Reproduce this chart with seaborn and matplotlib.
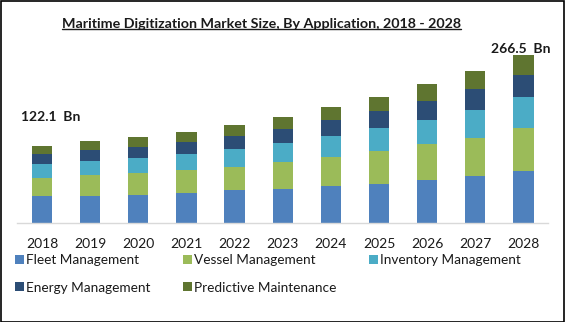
import numpy as np
import pandas as pd
import seaborn as sns
import matplotlib
matplotlib.use("Agg")
import matplotlib.pyplot as plt
from matplotlib.patches import Rectangle, Patch
from matplotlib.lines import Line2D

# Market size by application (USD Bn)
years = ["2018", "2019", "2020", "2021", "2022", "2023", "2024", "2025", "2026", "2027", "2028"]
fleet_management = [42.1, 43.1, 44.7, 47.9, 51.6, 54.2, 58.9, 62.3, 67.5, 73.8, 81.7]
vessel_management = [29.4, 33.2, 34.8, 36.3, 37.4, 42.7, 45.8, 51.5, 56.9, 61.6, 68.4]
inventory_management = [22.1, 22.1, 23.7, 25.8, 28.4, 30.0, 33.2, 36.3, 39.5, 44.2, 49.0]
energy_management = [15.8, 17.4, 17.4, 18.4, 20.5, 22.1, 25.3, 26.9, 30.0, 33.2, 35.8]
predictive_maintenance = [12.7, 14.2, 15.8, 15.8, 17.4, 19.0, 20.5, 22.1, 25.8, 28.4, 31.6]

segments = ["Fleet Management", "Vessel Management", "Inventory Management",
            "Energy Management", "Predictive Maintenance"]
colors = ["#4F81BD", "#9BBB59", "#4BACC6", "#2C4D75", "#5F7530"]

# callouts on first and last year
callout_years = ["2018", "2028"]
callout_text = ["122.1  Bn", "266.5  Bn"]

sns.set_theme(style="white")
plt.rcParams["font.family"] = ["Lato", "DejaVu Sans"]

df = pd.DataFrame({
    "year": years,
    segments[0]: fleet_management,
    segments[1]: vessel_management,
    segments[2]: inventory_management,
    segments[3]: energy_management,
    segments[4]: predictive_maintenance,
})
cum = df[segments].cumsum(axis=1)
cum["year"] = df["year"]

fig = plt.figure(figsize=(5.65, 3.22), dpi=100)
W, H = 565, 322
ax = fig.add_axes([17 / W, 1 - 223 / H, (548 - 17) / W, (223 - 50) / H])

# stacked bars: draw cumulative totals from the top segment down
for seg, col in zip(segments[::-1], colors[::-1]):
    sns.barplot(data=cum, x="year", y=seg, color=col, width=0.42,
                saturation=1, ax=ax, edgecolor="none", linewidth=0)

ax.set_ylim(0, 274)
ax.set_xlim(-0.52, 10.51)
ax.set_xlabel("")
ax.set_ylabel("")
ax.set_yticks([])
for s in ["top", "right", "left"]:
    ax.spines[s].set_visible(False)
ax.spines["bottom"].set_color("#D9D9D9")
ax.spines["bottom"].set_linewidth(1)
ax.tick_params(axis="x", length=0, pad=11, labelsize=10, labelcolor="#1a1a1a")

totals = cum[segments[-1]].values
offsets = [(-21, 29), (-32, 6)]
for yr, txt, off in zip(callout_years, callout_text, offsets):
    i = years.index(yr)
    ax.annotate(txt, xy=(i, totals[i]), xytext=off, textcoords="offset pixels",
                ha="left", va="center", fontsize=10, fontweight="bold", color="#1a1a1a")

renderer = fig.canvas.get_renderer()

# title, fitted to its width and underlined
title = fig.text(261 / W, 1 - 24 / H,
                 "Maritime Digitization Market Size, By Application, 2018 - 2028",
                 ha="center", va="center", fontsize=11, fontweight="bold", color="#1a1a1a")
bb = title.get_window_extent(renderer)
title.set_fontsize(11 * 398 / bb.width)
bb = title.get_window_extent(renderer)
fig.add_artist(Line2D([bb.x0 / W, bb.x1 / W], [(bb.y0 + 1) / H, (bb.y0 + 1) / H],
                      transform=fig.transFigure, color="#1a1a1a", lw=1))

# legend font sized so a label spans ~112 px
probe = fig.text(0, 0, segments[0], fontsize=10)
lfs = 10 * 112 / probe.get_window_extent(renderer).width
probe.set_fontsize(lfs)
probe.set_text(segments[3])
w_energy = probe.get_window_extent(renderer).width
probe.remove()
lpx = lfs * 100 / 72
hpx, tpx = 8.5, 2.5
col_gap = max(184 - 16 - hpx - tpx - w_energy, 10)

# legend, filled row by row
handles = [Patch(facecolor=c, edgecolor="none") for c in colors]
order = [0, 3, 1, 4, 2]
leg = fig.legend([handles[i] for i in order], [segments[i] for i in order],
                 ncol=3, loc="upper left", bbox_to_anchor=(15 / W, 1 - 254 / H),
                 frameon=False, fontsize=lfs, handlelength=hpx / lpx, handleheight=hpx / lpx,
                 handletextpad=tpx / lpx, columnspacing=col_gap / lpx, labelspacing=1.15,
                 borderpad=0, borderaxespad=0)
for t in leg.get_texts():
    t.set_color("#1a1a1a")

fig.add_artist(Rectangle((0.5 / W, 0.5 / H), 1 - 1.5 / W, 1 - 1.5 / H,
                         transform=fig.transFigure, fill=False, ec="black", lw=1.2))

fig.savefig("out.png", dpi=100)
